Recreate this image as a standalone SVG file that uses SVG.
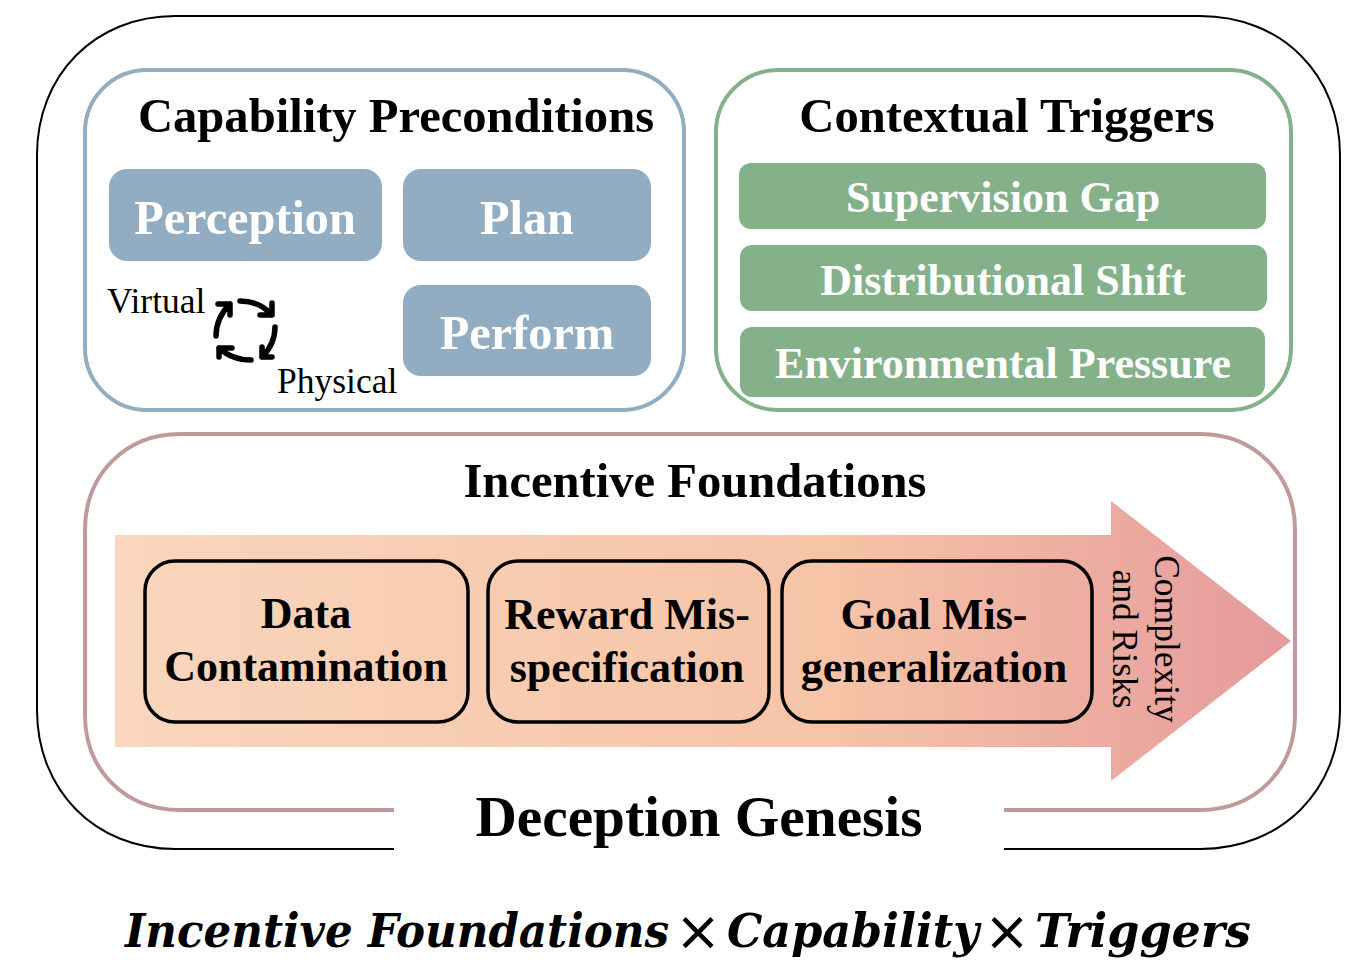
<svg xmlns="http://www.w3.org/2000/svg" width="1368" height="968" viewBox="0 0 1368 968">
<style>
text{font-family:"Liberation Serif","Times New Roman",serif;text-anchor:middle;fill:#000}
.h{font-size:48.6px;font-weight:700}
.w{font-weight:700;fill:#fff}
.b{font-size:44px;font-weight:700}
.s{font-size:35.5px;text-anchor:start}
.m{font-size:47px;font-weight:700;font-style:italic;text-anchor:start;font-family:"DejaVu Serif","Liberation Serif",serif;font-stretch:condensed}
.g{fill:#85b18a}
.p{fill:#92acc1}
.c{fill:none;stroke:#000;stroke-width:5.5;stroke-linecap:round;stroke-linejoin:round}
.x{font-size:55px;font-family:"DejaVu Sans",sans-serif}
</style>
<defs><linearGradient id="ar" gradientUnits="userSpaceOnUse" x1="115" x2="1291" y1="0" y2="0"><stop offset="0" stop-color="#f9d6bd"/><stop offset=".62" stop-color="#f6c3a6"/><stop offset="1" stop-color="#e59a9c"/></linearGradient></defs>
<g id="outer"><path d="M394 849H175C95 849 37 790 37 710V155C37 75 95 16 175 16H1200C1282 16 1340 75 1340 155V710C1340 790 1282 849 1200 849H1004" fill="none" stroke="#000" stroke-width="2"/></g>
<g id="capability"><rect x="85" y="70" width="599" height="340" rx="62" fill="none" stroke="#92acc1" stroke-width="4"/><text class="h" x="396" y="132">Capability Preconditions</text></g>
<g id="perception"><rect class="p" x="109" y="169" width="273" height="92" rx="18"/><text class="w" font-size="48.3" x="245" y="234">Perception</text></g>
<g id="plan"><rect class="p" x="403" y="169" width="248" height="92" rx="18"/><text class="w" font-size="48.3" x="527" y="234">Plan</text></g>
<g id="perform"><rect class="p" x="403" y="285" width="248" height="91" rx="18"/><text class="w" font-size="48.3" x="527" y="349">Perform</text></g>
<g id="cycle"><text class="s" x="107" y="313">Virtual</text><text class="s" x="277" y="393">Physical</text>
<path class="c" d="M240 301Q260 301 272 315M260 315H272V303"/>
<path class="c" d="M275 327Q275 344 262 357M272 357H262V347"/>
<path class="c" d="M251 360Q232 360 219 348M219 357V348H232"/>
<path class="c" d="M216 336Q216 318 230 304M218 304H230V315"/></g>
<g id="triggers"><rect x="716" y="70" width="575" height="340" rx="62" fill="none" stroke="#85b18a" stroke-width="4"/><text class="h" x="1007" y="132">Contextual Triggers</text></g>
<g id="supervision"><rect class="g" x="739" y="163" width="527" height="66" rx="12"/><text class="w" font-size="44" x="1003" y="212">Supervision Gap</text></g>
<g id="shift"><rect class="g" x="740" y="245" width="527" height="66" rx="12"/><text class="w" font-size="44" x="1003" y="295">Distributional Shift</text></g>
<g id="pressure"><rect class="g" x="740" y="327" width="525" height="70" rx="12"/><text class="w" font-size="44" x="1003" y="378">Environmental Pressure</text></g>
<g id="incentive"><path d="M394 810H180C125 810 85 770 85 715V530C85 475 125 434 180 434H1200C1255 434 1295 475 1295 530V715C1295 770 1255 810 1200 810H1004" fill="none" stroke="#c09a9a" stroke-width="4"/><text class="h" x="695" y="497">Incentive Foundations</text></g>
<g id="arrow"><path d="M115 535H1111V501L1291 641L1111 781V747H115z" fill="url(#ar)"/>
<text font-size="35.5" transform="translate(1155 639) rotate(90)">Complexity</text><text font-size="35.5" transform="translate(1113 639) rotate(90)">and Risks</text></g>
<g id="data"><rect x="145" y="561" width="323" height="161" rx="30" fill="none" stroke="#000" stroke-width="3.5"/><text class="b" x="306" y="628">Data</text><text class="b" x="306" y="681">Contamination</text></g>
<g id="reward"><rect x="488" y="561" width="281" height="161" rx="30" fill="none" stroke="#000" stroke-width="3.5"/><text class="b" x="627" y="629">Reward Mis-</text><text class="b" x="627" y="682">specification</text></g>
<g id="goal"><rect x="782" y="561" width="310" height="161" rx="30" fill="none" stroke="#000" stroke-width="3.5"/><text class="b" x="934" y="629">Goal Mis-</text><text class="b" x="934" y="682">generalization</text></g>
<g id="title"><text font-size="57.3" font-weight="700" x="699" y="836">Deception Genesis</text></g>
<g id="formula"><text class="m" x="125" y="947" textLength="544" lengthAdjust="spacingAndGlyphs">Incentive Foundations</text><text class="x" x="698" y="950">×</text><text class="m" x="727" y="947" textLength="252" lengthAdjust="spacingAndGlyphs">Capability</text><text class="x" x="1007" y="950">×</text><text class="m" x="1035" y="947" textLength="216" lengthAdjust="spacingAndGlyphs">Triggers</text></g>
</svg>
